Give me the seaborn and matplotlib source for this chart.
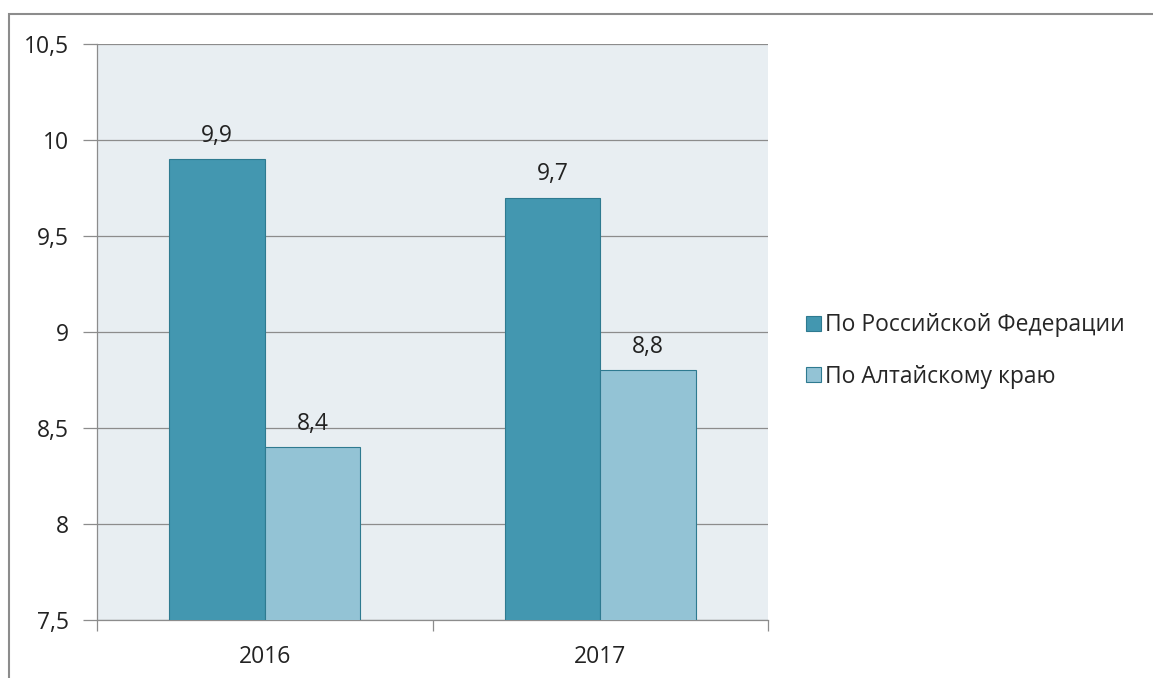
import matplotlib
matplotlib.use("Agg")
import matplotlib.pyplot as plt
import seaborn as sns
import pandas as pd
from matplotlib.patches import Rectangle, Patch
from matplotlib.ticker import FixedLocator, FuncFormatter

years = ["2016", "2017"]
series = ["По Российской Федерации", "По Алтайскому краю"]
rf_values = [9.9, 9.7]
altai_values = [8.4, 8.8]
y_ticks = [7.5, 8, 8.5, 9, 9.5, 10, 10.5]

df = pd.DataFrame({
    "year": years * 2,
    "series": [series[0]] * 2 + [series[1]] * 2,
    "value": rf_values + altai_values,
})

sns.set_theme(style="white")
plt.rcParams["font.family"] = ["Open Sans", "DejaVu Sans"]

colors = ["#4397B0", "#93C3D5"]
fig = plt.figure(figsize=(11.53, 6.78), dpi=100)
ax = fig.add_axes([97/1153, 1-620/678, (768-97)/1153, (620-44)/678])
ax.set_facecolor("#E8EEF2")

sns.barplot(data=df, x="year", y="value", hue="series", palette=colors, saturation=1,
            width=0.57, ax=ax, legend=False, edgecolor="#2E7A90", linewidth=0.8,
            zorder=3)

ax.set_ylim(7.5, 10.5)
ax.set_xlim(-0.5, 1.5)
ax.yaxis.set_major_locator(FixedLocator(y_ticks))
ax.yaxis.set_major_formatter(FuncFormatter(lambda v, p: (f"{v:g}").replace(".", ",")))
ax.grid(axis="y", color="#8C8C8C", linewidth=0.9, zorder=0)
ax.set_axisbelow(True)
for s in ["top", "right"]:
    ax.spines[s].set_visible(False)
for s in ["left", "bottom"]:
    ax.spines[s].set_color("#8C8C8C")
    ax.spines[s].set_linewidth(0.9)

ax.tick_params(axis="y", length=10, width=0.9, color="#8C8C8C", labelsize=16.5,
               labelcolor="#222222", pad=10, left=True)
ax.set_xticks([0, 1])
ax.set_xticklabels(years)
ax.tick_params(axis="x", which="major", length=0, labelsize=16.5, labelcolor="#222222", pad=18)
ax.set_xticks([-0.5, 0.5, 1.5], minor=True)
ax.tick_params(axis="x", which="minor", length=8, width=0.9, color="#8C8C8C", bottom=True)
ax.set_xlabel("")
ax.set_ylabel("")

for cont in ax.containers:
    labels = [(f"{b.get_height():.1f}").replace(".", ",") for b in cont]
    ax.bar_label(cont, labels=labels, padding=8, fontsize=16.5, color="#222222")

handles = [Patch(facecolor=c, edgecolor="#2E7A90", linewidth=0.8) for c in colors]
fig.legend(handles, series, loc="center left", bbox_to_anchor=(806/1153, 1-351/678),
           frameon=False, fontsize=16.5, handlelength=0.65, handleheight=0.65,
           handletextpad=0.2, labelspacing=1.2, borderaxespad=0, borderpad=0)

fig.patches.append(Rectangle((9/1153, -0.01), 1.2, 1-14/678+0.01, transform=fig.transFigure,
                             fill=False, edgecolor="#8C8C8C", linewidth=1.5))

fig.savefig("out.png", dpi=100)
